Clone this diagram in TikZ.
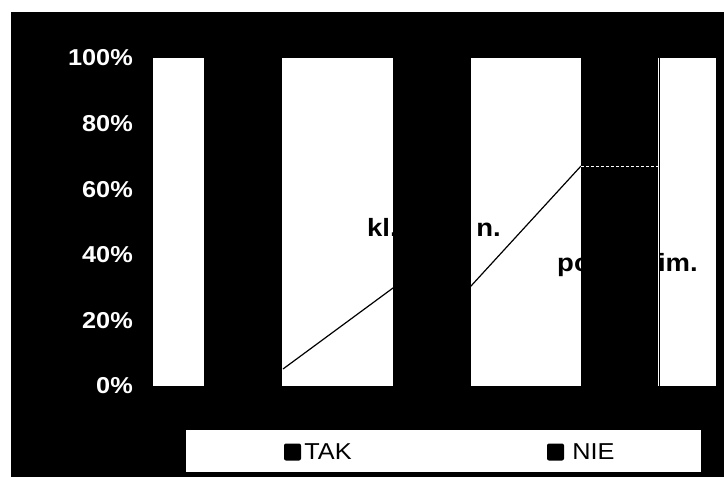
\documentclass[tikz,border=0pt]{standalone}
\usepackage{fontspec}
\setmainfont{Liberation Sans}[FakeStretch=1.1]
\usetikzlibrary{positioning, calc}
\tikzset{
    x=1pt, y=-1pt, % pixel-like units, origin top left
    every node/.style={ % Sets the properties for each label
        inner sep=0pt,
        font=\bfseries\fontsize{23}{27}\selectfont
    },
    ticklabel/.style={text=white, anchor=east},
    bar/.style={ % Sets the properties for each column
        fill=black,
        minimum width=78pt,
        minimum height=328pt,
        anchor=south west
    },
    catlabel/.style={text=black, font=\bfseries\fontsize{25}{29}\selectfont},
    key/.style={fill=black, rounded corners=2pt, minimum size=17pt}
}
\def\ypos#1{386-3.28*#1}

\begin{document}
\begin{tikzpicture}
    \useasboundingbox (0,0) rectangle (724,477);
    \fill[black] (11,12) rectangle (724,477);
    % plot area
    \node[fill=white, minimum width=563pt, minimum height=328pt, anchor=south west] (plot) at (153,386) {};
    \foreach \p in {0,20,...,100}
        \node[ticklabel] (t\p) at (133,{\ypos{\p}}) {\p\%};
    % category labels, partly under the columns
    \node[catlabel, anchor=base west] (kl) at (367,236) {kl.};
    \node[catlabel, anchor=base east] (an) at (501,236) {n.};
    \node[catlabel, anchor=base west] (po) at (557,271) {po};
    \node[catlabel, anchor=base east] (im) at (698,271) {im.};
    % line series
    \coordinate (l1) at (283,369);
    \coordinate (l2) at (393,288);
    \coordinate (l3) at (471,286);
    \coordinate (l4) at (581,166);
    \draw[line width=1.2pt] (l1) -- (l2) -- (l3) -- (l4);
    % columns
    \node[bar] (bar1) at (204,386) {};
    \node[bar] (bar2) at (393,386) {};
    \node[bar, minimum width=79pt] (bar3) at (581,386) {};
    \draw[white, very thin, dash pattern=on 3pt off 2pt] (l4) -- (l4 -| bar3.east);
    \draw[white, thin] ($(bar3.north east)+(-2.5,0)$) -- ($(bar3.south east)+(-2.5,0)$);
    % legend
    \node[fill=white, minimum width=515pt, minimum height=42pt, anchor=north west] (legend) at (186,430) {};
    \node[key] (ktak) at (292.5,452) {};
    \node[right=3pt of ktak, font=\fontsize{23}{27}\selectfont] (tak) {TAK};
    \node[key] (knie) at (555.5,452) {};
    \node[right=8pt of knie, font=\fontsize{23}{27}\selectfont] (nie) {NIE};
\end{tikzpicture}
\end{document}
